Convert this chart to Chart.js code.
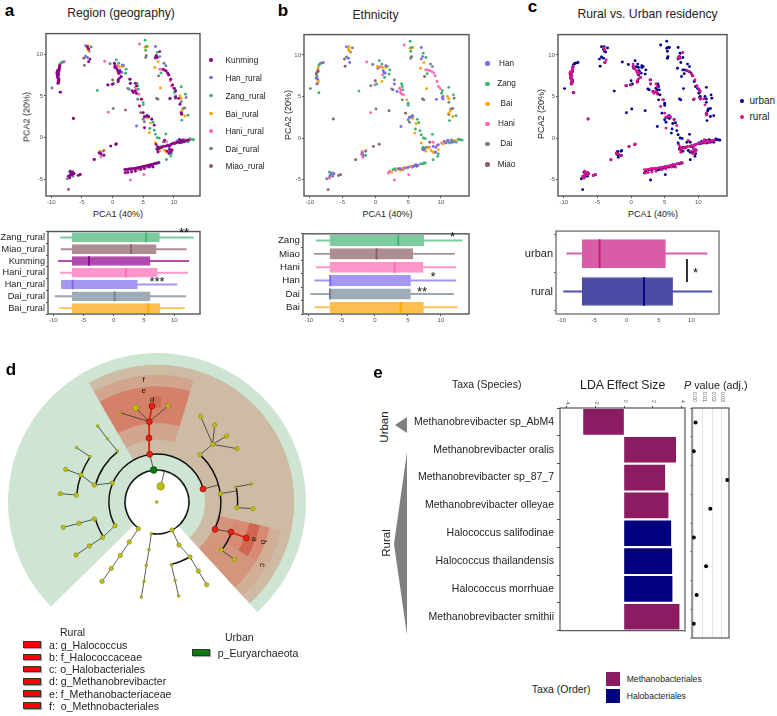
<!DOCTYPE html>
<html lang="en">
<head>
<meta charset="UTF-8">
<title>Archaea PCA, cladogram and LDA panels</title>
<style>
  html, body { margin: 0; background: #fff; }
  #page { position: relative; width: 777px; height: 716px; overflow: hidden; font-family: "Liberation Sans", Arial, sans-serif; color: #222; }
  #page canvas { position: absolute; }
  .txt { position: absolute; white-space: pre; line-height: 1; }
  .dot { position: absolute; border-radius: 50%; }
  .swatch { position: absolute; box-sizing: border-box; }
</style>
</head>
<body>
<div id="page">
  <svg width="777" height="716" style="position:absolute;left:0;top:0">
    <polygon points="395,425 407,417 407,433" fill="#808080"/>
    <polygon points="394,544 407,452 407,635" fill="#808080"/>
  </svg>
</div>
<script src="https://cdn.jsdelivr.net/npm/chart.js"></script>
<script>
// PCA points (six ethnic groups) and panel a (Kunming on top)
const han = [[-8.9,6.5],[-9,7.2],[-8.8,7.1],[-8,9.05],[-4.4,11],[-3.9,9.1],[-4.1,9.6],[1.6,8.7],[1.2,8.1],[1.3,7.9],[1.5,7.8],[2.9,6.5],[3.3,5.6],[5.4,2.5],[5.7,2.65],[3.9,1.4],[7,10.9],[7.2,9.8],[7,9.5],[9.3,4.65],[10.3,5],[10.3,4.7],[-6.9,-4.5],[-6.7,-4.3],[-2,-1.8],[-1.5,-1.6],[-6.3,-4.3],[7.4,-1.4],[8.8,-1],[9.2,-1.1],[9.6,-0.8],[10.7,-0.6],[11.1,-0.3],[11.8,-0.5],[5,-3.5],[5.8,-3.4],[6.2,-3.2],[6.5,-3.3],[3.8,-3.7],[4.5,-3.6],[9.2,-1.7]];
const zang = [[-8.6,8.8],[-8.4,8.95],[-8.6,5.45],[-2.5,5.65],[0.6,9.3],[1,8.9],[2.2,8.2],[2.1,7.7],[1.4,7.3],[0.2,6.5],[4,6.5],[4.1,6.2],[4.2,5.8],[5,4.2],[5,3.95],[5.6,2.7],[6.4,2.25],[6.6,1.85],[6.1,1.1],[6.8,0.9],[7,0.4],[7.3,0],[7.6,-0.05],[8.7,0.45],[5.3,11.65],[5.4,10.45],[5.5,10.9],[7.3,10.2],[7.7,9.7],[7.9,7.75],[10.2,5.7],[10.1,5.4],[11.2,6.1],[11.9,5.2],[12.3,2.7],[11.3,2.1],[-1.5,-2.1],[8.8,-2.6],[9.5,-2.2],[9.6,-1.9],[13,-0.2],[12.7,-0.2],[13.2,-0.25],[7.4,-3],[7.6,-3],[7.2,-3.1],[6.9,-3.1],[3,-3.7],[2.7,-3.8],[-7,-4.1],[-6.5,-4.2],[7.5,-1.3],[7.3,-1.1],[11.3,-0.6],[11.7,-0.3],[12.3,-0.5]];
const bai = [[-8.8,6.6],[-8.7,6.8],[-8.75,7],[-8.7,8.5],[-4,11],[-4.1,10.7],[-3.95,10.45],[0.3,8.6],[1.1,8.5],[1.6,8.5],[1,6.8],[4.8,4.6],[5.7,2.35],[6.2,1.75],[6,0.6],[5.7,10.9],[5.3,10.8],[7.4,9.1],[6.9,8.4],[7.8,5.95],[11.2,4.7],[11,5],[11.4,3.3],[11.2,3],[11.8,2.6],[7,-0.6],[7.7,-1.6],[8,-1.2],[8.5,-1.5],[9.6,-1.4],[8.8,-1.7],[12.2,-0.3],[10.3,-0.7],[3.8,-3.9],[4.2,-3.6],[2.5,-4.1],[4.8,-3.6],[5.3,-3.4],[-6.7,-4.4],[-1.4,-1.5],[-2,-1.6]];
const hani = [[-7.9,9.1],[-1.3,9.15],[0.8,8.6],[0.5,8.55],[1.1,7.6],[-0.1,6.4],[3.7,6],[3.9,5.8],[3.8,5.5],[4,5.3],[4.3,5.2],[-0.7,3.05],[4.4,11.2],[7.7,8.2],[8,8.2],[8.3,8.1],[8.6,8],[8.9,7.85],[9.1,7.5],[9.4,6.8],[9.6,6.2],[9.9,5.95],[-1.9,-2.3],[-2.1,-1.95],[2,-4.2],[2.2,-4],[5.1,-4.4],[2.9,-5.05],[3.1,-3.9],[8.8,-0.5],[10.1,-0.6],[11,-0.5],[12.6,-0.1],[11.6,-0.2],[8.2,-1.1],[9.4,-0.9],[5.6,-3.4],[4,-3.8],[-7,-4.7]];
const dai = [[-9.9,5.95],[-8.3,9],[-3.5,10.85],[-3.8,10.35],[-4.4,9.75],[-0.4,8.85],[0.4,8.4],[1.8,8.6],[-0.7,6.3],[2.9,7],[2.5,5.9],[2.7,5.8],[4.1,4.6],[5.4,9.6],[0.1,3.5],[5.2,2.5],[5,2.2],[5.2,1.9],[8.4,8.9],[8.7,8.6],[7.4,4.6],[10.2,4.9],[12,4.8],[11.8,3.55],[11.5,3.5],[11.2,4.3],[-7.4,-4.9],[-7,-4.8],[-6.5,-4.6],[7.3,-1.4],[7.8,-1.1],[9,-1.7],[10.5,-0.4],[11.5,-0.5],[12,-0.4],[6,-3.3],[5.6,-3.5],[4.9,-3.6],[4.2,-3.8],[-8.9,7.4]];
const miao = [[-9,7.7],[-8.9,7.9],[-8.75,8.2],[-8.7,8],[-4.7,9.5],[-4.6,8.65],[0,6.9],[4.6,3],[-6.4,2.3],[2.1,3.3],[5.5,9.8],[7.5,7.4],[7.2,4.7],[11.2,2.85],[-7.2,-6.2],[-3,-2.6],[-0.3,-1],[0.6,-0.75],[-5.6,-4.5],[-5.3,-4.4],[8.3,-0.5],[7.2,-1.3],[-1.9,-2],[3.5,-3.7],[6.3,-3.4],[11,-0.3]];
const kunming = [[-8.9,6.5],[-8.9,6.6],[-8.8,6.7],[-8.85,6.85],[-8.8,7],[-8.95,7.2],[-9,7.4],[-9.05,7.6],[-9.1,7.8],[-8.9,7.9],[-8.8,8.05],[-8.75,8.2],[-8.7,8.35],[-8.65,8.5],[-8.6,8.65],[-8.8,7.5],[-8.85,7.7],[-9,8],[-8.5,5.45],[-6.4,2.3],[-4.1,10.85],[-3.9,10.6],[-3.7,9.4],[-3.9,9.1],[0.4,8.6],[0.4,8.4],[0.6,8.3],[0.8,8.1],[0.9,7.9],[1,7.7],[1.2,7.9],[1.1,7.1],[0.9,6.7],[0.9,6.9],[1.4,7.3],[-0.8,6.3],[0,6.4],[0.3,8.9],[2.8,7],[2.9,6.5],[3.7,6.5],[3.9,6.2],[3.2,5.6],[3.4,5.4],[3.7,5.6],[3.9,5.3],[4.7,4.6],[4.4,3.8],[5,3],[5.2,2.5],[5.6,2.6],[5.9,2.5],[6.4,2.2],[6.8,1.5],[5.2,1.2],[7.1,9.8],[7.3,9.6],[7.7,10.3],[7,9.6],[8.3,8.15],[8.7,8],[9,7.7],[9.2,7.5],[9.5,7],[9.8,6.3],[10.1,5.9],[10.3,5.6],[9.4,4.7],[10.3,4.8],[10.8,4.7],[11.2,3],[11.3,2.8],[11,4],[7.3,-1.4],[7.4,-1.1],[7.6,-1.3],[7.9,-1.2],[8.1,-1.1],[8.4,-1],[8.7,-1],[9,-0.9],[9.3,-1],[9.5,-0.8],[9.8,-0.7],[10.1,-0.7],[10.4,-0.6],[10.7,-0.5],[11,-0.6],[11.2,-0.4],[11.5,-0.5],[11.8,-0.4],[12.1,-0.3],[12.4,-0.3],[10.9,-0.2],[11.4,-0.3],[8.9,-1.6],[9.2,-1.9],[9.5,-1.7],[9.7,-1.5],[9.3,-1.4],[7.1,-0.8],[7.4,-1.7],[8.5,-0.3],[2,-3.8],[2.3,-3.8],[2.6,-3.75],[2.9,-3.75],[3.2,-3.7],[3.5,-3.7],[3.8,-3.65],[4.1,-3.6],[4.4,-3.55],[4.7,-3.5],[5,-3.45],[5.3,-3.4],[5.6,-3.35],[5.9,-3.3],[6.2,-3.25],[6.5,-3.2],[6.8,-3.1],[7.1,-3.05],[7.5,-3],[2.1,-4.2],[2.5,-4.15],[3.1,-4.1],[3.7,-4],[4.6,-3.8],[5.2,-3.7],[6,-3.5],[6.6,-3.5],[-7,-4.5],[-6.8,-4.2],[-6.5,-4.1],[-6.9,-4],[-7,-4.8],[-6.6,-4.4],[-7.2,-4.6],[-6.3,-4.3],[-5.6,-4.5],[-5.3,-4.4],[-2.2,-1.8],[-1.9,-1.9],[-1.4,-2.1],[-3,-2.6],[-0.3,-1],[0.5,-0.8],[0.6,-0.75]];

// Box panels: whisker ends, box ends, median on PCA1
const regionLabels = ['Zang_rural','Miao_rural','Kunming','Hani_rural','Han_rural','Dai_rural','Bai_rural'];
const regionWhisker = [[-8.8,13.15],[-8.7,12],[-9.15,12.4],[-8.8,12.2],[-8.7,10.45],[-9.7,11.9],[-9,11.7]];
const regionBox = [[-6.85,7.55],[-6.85,7],[-6.85,6],[-6.85,7.2],[-8.65,3.9],[-6.85,6],[-6.85,7.6]];
const regionMedian = [5.35,2.85,-4.1,2,-6.8,0.15,5.7];

const ethnicLabels = ['Zang','Miao','Hani','Han','Dai','Bai'];
const ethnicWhisker = [[-8.85,13.2],[-9.15,12.05],[-8.85,12.25],[-9.1,12.25],[-9.7,11.9],[-9.05,12.45]];
const ethnicBox = [[-6.8,7.4],[-6.8,5.75],[-6.8,7.3],[-6.8,5.4],[-6.8,5.4],[-6.8,7.35]];
const ethnicMedian = [3.55,0.25,3,-6.75,-6.8,3.9];

const residencyLabels = ['urban','rural'];
const residencyWhisker = [[-9.2,12.4],[-9.7,13.15]];
const residencyBox = [[-6.85,6],[-6.85,7.1]];
const residencyMedian = [-4.15,2.7];

// LDA panel
const taxa = ['Methanobrevibacter sp_AbM4','Methanobrevibacter oralis','Methanobrevibacter sp_87_7','Methanobrevibacter olleyae','Halococcus salifodinae','Halococcus thailandensis','Halococcus morrhuae','Methanobrevibacter smithii'];
const ldaScores = [-2.82,3.6,2.84,3.07,3.26,3.33,3.35,3.84];
const taxaOrder = ['m','m','m','m','h','h','h','m'];
const pValues = [0.0021,0.0001,0.0361,0.0179,0.0002,0.0133,0.0032,0.0001];
const ldaTicks = [-4,-2,0,2,4];
const pTicks = [0,0.01,0.02,0.03];

// Cladogram background: sector widths in degrees (starting at -30 from the top) and ring thickness
const sectorWidths = [27,5.5,14.5,86,18,16.5,88,104.5];
const ringThickness = [32,30,35,30,33,47,50,42,52];

// Cladogram arcs as [on/off widths in degrees from the top], one list per arc ring
const arcInner = [190,24.5,145.5];
const arcSecond = [74,166,120];
const arcThird = [42.5,72.5,34,18,70,18,30,37,38];
const arcFourth = [79,15,18,14.7,148.3,29,56];

// Cladogram nodes and branches, in units of the tree's own 894 x 894 space
const nodesTiny = [[447,599],[439,646],[432,694],[424,741],[525,691],[536,738],[514,644],[454,551],[230,293],[293,228],[322,266],[352,303],[270,320],[360,188],[707,411],[754,402],[470,456]];
const nodesMid = [[415,536],[388,576],[361,616],[334,655],[306,694],[516,540],[537,585],[570,621],[595,663],[620,704],[345,527],[308,562],[268,588],[228,615],[283,507],[237,520],[190,532],[337,399],[283,405],[243,375],[197,358],[229,435],[181,431],[600,314],[638,283],[602,199],[644,225],[680,258],[711,296],[661,431],[711,473],[759,476],[664,600],[703,628],[504,168]];
const nodesLarge = [[407,174]];
const nodesHuge = [[482,409]];
const nodesRed = [[449,313],[447,264],[448,215],[456,168],[609,417],[645,538],[693,546],[739,564]];
const nodesGreen = [[461,360]];
const branches = [
  [[461,360],[449,313]], [[482,409],[493,365]],
  [[415,536],[388,576],[361,616],[334,655],[306,694]],
  [[454,551],[447,599],[439,646],[432,694],[424,741]],
  [[516,540],[537,585],[570,621],[595,663],[620,704]],
  [[514,644],[525,691],[536,738]],
  [[345,527],[308,562],[268,588],[228,615]],
  [[283,507],[237,520],[190,532]],
  [[337,399],[283,405],[243,375],[197,358]],
  [[270,320],[230,293]], [[229,435],[181,431]],
  [[352,303],[322,266],[293,228]],
  [[448,215],[407,174]], [[448,215],[360,188]], [[448,215],[504,168]],
  [[600,314],[638,283],[602,199]], [[638,283],[644,225]], [[638,283],[680,258]], [[638,283],[711,296]],
  [[609,417],[655,405]], [[661,431],[707,423]],
  [[707,411],[754,402]], [[711,473],[759,476]],
  [[645,538],[693,546]], [[664,600],[703,628]]
];
const redBranches = [[[449,313],[447,264],[448,215],[456,168]], [[693,546],[739,564]]];

// ---- styles ----
const col = { kunming:'#8B008B', han:'#7B68EE', zang:'#3CB371', bai:'#FFA500', hani:'#FF69B4', dai:'#708090', miao:'#8B5F65' };
const fill = { kunming:'#AD49AD', han:'#A498F0', zang:'#7CCB9E', bai:'#FFBE4D', hani:'#FF96CB', dai:'#9FACB8', miao:'#AD8E92' };
const G = '#CDE5D2', T = '#CEBBA4', M = '#D2A58E', D = '#D58069', X = '#CB6E58', C = '#D3957B', CL = '#D1AE96', B = '#D98A72', A = '#D0664F', N = 'rgba(0,0,0,0)';
// rings from outside in; sectors: upper-left, d tile, upper-right, right, a/b wedge, lower wedge, gap, green left
const ringColors = [
  [G,G,G,G,G,G,N,G],
  [T,T,T,T,T,T,N,G],
  [M,M,M,T,CL,CL,N,G],
  [D,D,D,T,B,C,N,G],
  [D,X,D,T,A,C,N,G],
  [D,D,D,T,B,C,N,G],
  [M,M,M,T,C,C,N,G],
  [T,T,T,T,T,T,N,G],
  [G,G,G,G,G,G,N,G]
];

Chart.defaults.font.family = '"Liberation Sans", Arial, sans-serif';
Chart.defaults.animation = false;
const page = document.getElementById('page');

const framePlugin = {
  id: 'frame',
  afterDraw(chart, args, opts) {
    const a = chart.chartArea, c = chart.ctx, dy = opts.dy || 0;
    c.save();
    c.strokeStyle = opts.color || '#555';
    c.lineWidth = opts.width || 1.4;
    c.strokeRect(a.left, a.top - dy, a.right - a.left, a.bottom - a.top + 2 * dy);
    if (opts.rightColor) {
      c.strokeStyle = opts.rightColor;
      c.lineWidth = 2;
      c.beginPath();
      c.moveTo(a.right, a.top - 1);
      c.lineTo(a.right, a.bottom + 1);
      c.stroke();
    }
    c.restore();
  }
};

function newCanvas(left, top, w, h) {
  const cv = document.createElement('canvas');
  cv.width = w; cv.height = h;
  cv.style.left = left + 'px'; cv.style.top = top + 'px';
  cv.style.width = w + 'px'; cv.style.height = h + 'px';
  page.appendChild(cv);
  return cv;
}

function addText(text, x, y, size, o) {
  o = o || {};
  const d = document.createElement('div');
  d.className = 'txt';
  d.textContent = text;
  d.style.left = x + 'px';
  d.style.top = y + 'px';
  d.style.fontSize = size + 'px';
  const ax = o.align === 'left' ? '0' : o.align === 'right' ? '-100%' : '-50%';
  d.style.transform = 'translate(' + ax + ',-50%)' + (o.rot ? ' rotate(' + o.rot + 'deg)' : '');
  if (o.bold) d.style.fontWeight = 'bold';
  if (o.italic) d.style.fontStyle = 'italic';
  if (o.color) d.style.color = o.color;
  page.appendChild(d);
  return d;
}

function addDot(x, y, r, color) {
  const d = document.createElement('div');
  d.className = 'dot';
  d.style.cssText = 'left:' + (x - r) + 'px;top:' + (y - r) + 'px;width:' + 2 * r + 'px;height:' + 2 * r + 'px;background:' + color;
  page.appendChild(d);
}

function addSwatch(x, y, w, h, color, border) {
  const d = document.createElement('div');
  d.className = 'swatch';
  d.style.cssText = 'left:' + x + 'px;top:' + y + 'px;width:' + w + 'px;height:' + h + 'px;background:' + color + (border ? ';border:1px solid #333;box-shadow:1px 1px 1px #aaa' : '');
  page.appendChild(d);
}

function pcaAxis(min, max, fontSize, tickColor) {
  return {
    type: 'linear', min: min, max: max,
    grid: { display: true, drawOnChartArea: false, drawTicks: true, tickLength: 2, color: tickColor || '#555' },
    border: { display: false },
    ticks: { stepSize: 5, includeBounds: false, font: { size: fontSize || 6 }, color: '#555', padding: 1, maxRotation: 0 }
  };
}

function scatterPanel(fr, series) {
  const ml = 26, mb = 12, mt = 2, mr = 2;
  const x = pcaAxis(-10.87, 14.27);
  const y = pcaAxis(-6.97, 12.45);
  x.afterFit = s => { s.height = mb; };
  y.afterFit = s => { s.width = ml; };
  new Chart(newCanvas(fr[0] - ml, fr[1] - mt, fr[2] - fr[0] + ml + mr, fr[3] - fr[1] + mt + mb), {
    type: 'scatter',
    data: { datasets: series.map(s => ({ data: s[0], backgroundColor: s[1], borderWidth: 0, pointRadius: 1.45 })) },
    options: {
      responsive: false,
      layout: { autoPadding: false, padding: { top: mt, right: mr, left: 0, bottom: 0 } },
      plugins: { legend: { display: false }, tooltip: { enabled: false }, frame: {} },
      scales: { x: x, y: y }
    },
    plugins: [framePlugin]
  });
}

function boxPanel(fr, labels, whisker, box, median, fills, lines, o) {
  const mt = 3 + (o.dy || 0), mb = 12 + (o.dy || 0), ml = 50, mr = 2;
  const x = pcaAxis(-10.87, 14.25, 6, o.dy ? 'rgba(0,0,0,0)' : '#555');
  if (o.dy) x.ticks.padding = o.dy + 1;
  x.afterFit = s => { s.height = mb; };
  const y = {
    type: 'category', labels: labels,
    grid: { display: true, drawOnChartArea: false, drawTicks: true, tickLength: 2, color: '#555' },
    border: { display: false },
    ticks: { font: { size: o.fontSize }, color: '#222', padding: 1, autoSkip: false },
    afterFit: s => { s.width = ml; }
  };
  const common = { grouped: false, categoryPercentage: 1, barPercentage: 1, indexAxis: 'y' };
  new Chart(newCanvas(fr[0] - ml, fr[1] + (o.dy || 0) - mt, fr[2] - fr[0] + ml + mr, fr[3] - fr[1] - 2 * (o.dy || 0) + mt + mb), {
    type: 'bar',
    data: {
      labels: labels,
      datasets: [
        Object.assign({ data: median.map(m => [m - 0.09, m + 0.09]), backgroundColor: lines, barThickness: o.thick, order: 0 }, common),
        Object.assign({ data: box, backgroundColor: fills, borderColor: fills, borderWidth: 1, borderSkipped: false, barThickness: o.thick, order: 1 }, common),
        Object.assign({ data: whisker, backgroundColor: lines.map(c => c + 'B0'), barThickness: 1.3, order: 2 }, common)
      ]
    },
    options: {
      indexAxis: 'y',
      responsive: false,
      layout: { autoPadding: false, padding: { top: mt, right: mr, left: 0, bottom: 0 } },
      plugins: { legend: { display: false }, tooltip: { enabled: false }, frame: { dy: o.dy || 0, color: o.frame } },
      scales: { x: x, y: y }
    },
    plugins: [framePlugin]
  });
}

// ---- a, b, c scatter ----
const sixGroups = [[han,col.han],[zang,col.zang],[bai,col.bai],[hani,col.hani],[dai,col.dai],[miao,col.miao]];
scatterPanel([46,31,200,196], [[kunming,col.kunming]].concat(sixGroups));
scatterPanel([304,32,469,196], sixGroups);
scatterPanel([558,32,727,196], [[kunming,'#D6128C'],[[].concat(han,zang,bai,hani,dai,miao),'#00008B']]);

// ---- a, b, c boxes ----
const regionKeys = ['zang','miao','kunming','hani','han','dai','bai'];
const ethnicKeys = ['zang','miao','hani','han','dai','bai'];
boxPanel([48,228,200,314], regionLabels, regionWhisker, regionBox, regionMedian, regionKeys.map(k => fill[k]), regionKeys.map(k => col[k]), { thick: 9, fontSize: 9.2 });
boxPanel([303,230,469,314], ethnicLabels, ethnicWhisker, ethnicBox, ethnicMedian, ethnicKeys.map(k => fill[k]), ethnicKeys.map(k => col[k]), { thick: 10.5, fontSize: 9.7 });
boxPanel([556,230,719,314], residencyLabels, residencyWhisker, residencyBox, residencyMedian, ['#D95CA6','#4B4BA3'], ['#C71585','#00008B'], { thick: 28, fontSize: 11, dy: 3.5, frame: '#777' });

// ---- d cladogram ----
const ringOpts = { responsive: false, cutout: '21%', layout: { padding: 0 }, plugins: { legend: { display: false }, tooltip: { enabled: false } }, events: [] };
new Chart(newCanvas(8, 353, 298, 298), {
  type: 'doughnut',
  data: { datasets: ringColors.map((cs, i) => ({ data: sectorWidths, backgroundColor: cs, borderColor: cs, borderWidth: 1, weight: ringThickness[i] })) },
  options: Object.assign({ rotation: -30 }, ringOpts)
});
const K = '#111';
new Chart(newCanvas(8, 353, 298, 298), {
  type: 'doughnut',
  data: { datasets: [
    { data: [1], backgroundColor: [N], borderWidth: 0, weight: 204 },
    { data: arcFourth, backgroundColor: [N,K,N,K,N,K,N], borderWidth: 0, weight: 4.5 },
    { data: [1], backgroundColor: [N], borderWidth: 0, weight: 46 },
    { data: arcThird, backgroundColor: [N,K,N,K,N,K,N,K,N], borderWidth: 0, weight: 4.5 },
    { data: [1], backgroundColor: [N], borderWidth: 0, weight: 43 },
    { data: arcSecond, backgroundColor: [K,N,K], borderWidth: 0, weight: 4.5 },
    { data: [1], backgroundColor: [N], borderWidth: 0, weight: 44 },
    { data: arcInner, backgroundColor: [K,N,K], borderWidth: 0, weight: 4.5 }
  ] },
  options: ringOpts
});
function nodeSet(points, radius, color, edge) {
  return { data: points, backgroundColor: color, borderColor: edge, borderWidth: 0.6, pointRadius: radius, showLine: false, order: 0 };
}
function branchSet(points, color, width) {
  return { data: points, borderColor: color, borderWidth: width, pointRadius: 0, showLine: true, fill: false, order: 1 };
}
new Chart(newCanvas(8, 353, 298, 298), {
  type: 'scatter',
  data: { datasets: [
    nodeSet(nodesTiny, 1.4, '#BDBD12', '#8A8A10'),
    nodeSet(nodesMid, 2.2, '#BDBD12', '#8A8A10'),
    nodeSet(nodesLarge, 2.9, '#BDBD12', '#8A8A10'),
    nodeSet(nodesHuge, 3.8, '#BDBD12', '#8A8A10'),
    nodeSet(nodesRed, 3, '#F02010', '#7A1008'),
    nodeSet(nodesGreen, 3.4, '#0B7A14', '#064A0A')
  ].concat(branches.map(b => branchSet(b, '#333', 0.8)), redBranches.map(b => branchSet(b, '#E02010', 1.8))) },
  options: {
    responsive: false, events: [],
    layout: { autoPadding: false, padding: 0 },
    plugins: { legend: { display: false }, tooltip: { enabled: false } },
    scales: { x: { type: 'linear', min: 24, max: 918, display: false }, y: { type: 'linear', min: 9, max: 903, reverse: true, display: false } }
  }
});

// ---- e LDA bars and p values ----
const ldaFrame = [560,408,685,638];
const purple = '#8B1C62', navy = '#000080';
new Chart(newCanvas(ldaFrame[0] - 152, ldaFrame[1] - 16, ldaFrame[2] - ldaFrame[0] + 155, ldaFrame[3] - ldaFrame[1] + 18), {
  type: 'bar',
  data: { labels: taxa, datasets: [{ data: ldaScores, backgroundColor: taxaOrder.map(t => t === 'm' ? purple : navy), barThickness: 25 }] },
  options: {
    indexAxis: 'y', responsive: false,
    layout: { autoPadding: false, padding: { top: 0, right: 3, left: 0, bottom: 2 } },
    plugins: { legend: { display: false }, tooltip: { enabled: false }, frame: { color: '#333', width: 1, rightColor: '#999' } },
    scales: {
      x: { type: 'linear', position: 'top', min: -4.46, max: 4.25,
        grid: { display: true, drawOnChartArea: false, tickLength: 2, color: '#555' }, border: { display: false },
        ticks: { font: { size: 5 }, color: '#555', minRotation: -90, maxRotation: -90, padding: 6, labelOffset: -5, autoSkip: false },
        afterBuildTicks: s => { s.ticks = ldaTicks.map(v => ({ value: v })); },
        afterFit: s => { s.height = 16; } },
      y: { type: 'category',
        grid: { display: true, drawOnChartArea: false, tickLength: 3, color: '#555' }, border: { display: false },
        ticks: { font: { size: 10.5 }, color: '#222', padding: 3, autoSkip: false },
        afterFit: s => { s.width = 152; } }
    }
  },
  plugins: [framePlugin]
});
const pFrame = [692,408,729,638];
new Chart(newCanvas(pFrame[0] - 6, pFrame[1] - 16, pFrame[2] - pFrame[0] + 9, pFrame[3] - pFrame[1] + 18), {
  type: 'scatter',
  data: { datasets: [{ data: pValues.map((p, i) => ({ x: p, y: i })), backgroundColor: '#000', pointRadius: 2, borderWidth: 0 }] },
  options: {
    responsive: false,
    layout: { autoPadding: false, padding: { top: 0, right: 3, left: 0, bottom: 2 } },
    plugins: { legend: { display: false }, tooltip: { enabled: false }, frame: { color: '#333', width: 1 } },
    scales: {
      x: { type: 'linear', position: 'top', min: -0.00175, max: 0.0379,
        grid: { display: true, drawOnChartArea: true, tickLength: 9, color: '#E4E4E4', tickColor: 'rgba(0,0,0,0)' }, border: { display: false },
        ticks: { autoSkip: false, font: { size: 5 }, color: '#555', minRotation: -90, maxRotation: -90, padding: 7, labelOffset: -5, callback: v => v.toFixed(2) },
        afterBuildTicks: s => { s.ticks = pTicks.map(v => ({ value: v })); },
        afterFit: s => { s.height = 16; } },
      y: { type: 'linear', min: -0.5, max: 7.5, reverse: true,
        grid: { display: true, drawOnChartArea: false, tickLength: 2, color: '#999' }, border: { display: false },
        ticks: { stepSize: 1, display: false },
        afterFit: s => { s.width = 6; } }
    }
  },
  plugins: [framePlugin]
});

// ---- titles, axis names, legends ----
addText('a', 9.5, 10, 17, { bold: true, color: '#000' });
addText('b', 283, 10, 17, { bold: true, color: '#000' });
addText('c', 532.5, 6, 17, { bold: true, color: '#000' });
addText('d', 11, 369, 17, { bold: true, color: '#000' });
addText('e', 378, 372, 17, { bold: true, color: '#000' });
addText('Region (geography)', 121, 13, 12.2);
addText('Ethnicity', 375.5, 15, 12.2);
addText('Rural vs. Urban residency', 647.5, 14, 12.2);
addText('PCA1 (40%)', 118, 213.5, 9);
addText('PCA1 (40%)', 387.5, 213.5, 9);
addText('PCA1 (40%)', 653, 213.5, 9);
addText('PCA2 (20%)', 27, 117, 9, { rot: -90 });
addText('PCA2 (20%)', 288, 115, 9, { rot: -90 });
addText('PCA2 (20%)', 541, 113.5, 9, { rot: -90 });

const legendA = ['Kunming','Han_rural','Zang_rural','Bai_rural','Hani_rural','Dai_rural','Miao_rural'];
const legendAKeys = ['kunming','han','zang','bai','hani','dai','miao'];
const legendAY = [60,77.5,95.5,113.5,131,148.5,166];
legendA.forEach((t, i) => { addDot(211, legendAY[i], 1.9, col[legendAKeys[i]]); addText(t, 225.5, legendAY[i], 8.3, { align: 'left' }); });
const legendB = ['Han','Zang','Bai','Hani','Dai','Miao'];
const legendBKeys = ['han','zang','bai','hani','dai','miao'];
legendB.forEach((t, i) => { const y = 63.5 + i * 20.2; addDot(487.5, y, 2.1, col[legendBKeys[i]]); addText(t, 506.5, y, 8.2); });
addDot(742.3, 100.7, 1.9, '#00008B'); addText('urban', 749.5, 100.7, 10, { align: 'left' });
addDot(742.3, 116.7, 1.9, '#D6128C'); addText('rural', 749.5, 116.7, 10, { align: 'left' });

// significance marks
[['**',184,232],['***',157,281],['*',452.5,236],['*',433,276],['**',422,291],['*',695.5,272]].forEach(s => addText(s[0], s[1], s[2], 13, { color: '#111' }));
addSwatch(686.3, 258.5, 1.5, 23, '#333');

// d: clade letters and legends
addText('f', 143.5, 380, 8, { color: '#111' });
addText('e', 143.8, 391, 8, { color: '#111' });
addText('d', 152, 400, 8, { color: '#111' });
addText('a', 253.5, 539, 8, { rot: 100, color: '#111' });
addText('b', 262.5, 542, 8, { rot: 100, color: '#111' });
addText('c', 261.5, 565, 8, { rot: 100, color: '#111' });
addText('Rural', 60, 632, 10.5, { align: 'left' });
const cladeLegend = ['a: g_Halococcus','b: f_Halococcaceae','c: o_Halobacteriales','d: g_Methanobrevibacter','e: f_Methanobacteriaceae','f:  o_Methnobacteriales'];
cladeLegend.forEach((t, i) => { const y = 644.7 + i * 12.2; addSwatch(23.3, y - 3.4, 17.4, 6.8, '#FF0000', true); addText(t, 49, y, 10.6, { align: 'left' }); });
addText('Urban', 225, 636.7, 10.5, { align: 'left' });
addSwatch(192.3, 649.3, 17.7, 6.8, '#0A7A0A', true);
addText('p_Euryarchaeota', 217.7, 652.7, 10.6, { align: 'left' });

// e: headings and legend
addText('Taxa (Species)', 486.7, 384, 10.5);
addText('LDA Effect Size', 622.7, 384.5, 12.3);
const pHead = addText('', 684, 384.5, 10.8, { align: 'left' });
pHead.innerHTML = '<i>P</i> value (adj.)';
addText('Urban', 385, 426.5, 11.5, { rot: -90 });
addText('Rural', 386.5, 543, 11.5, { rot: -90 });
addText('Taxa (Order)', 531.7, 689, 10.5, { align: 'left' });
addSwatch(606, 672, 14, 14, purple);
addSwatch(606, 689, 14, 14, navy);
addText('Methanobacteriales', 626.7, 679.3, 8.6, { align: 'left' });
addText('Halobacteriales', 626.7, 696, 8.6, { align: 'left' });
</script>
</body>
</html>
